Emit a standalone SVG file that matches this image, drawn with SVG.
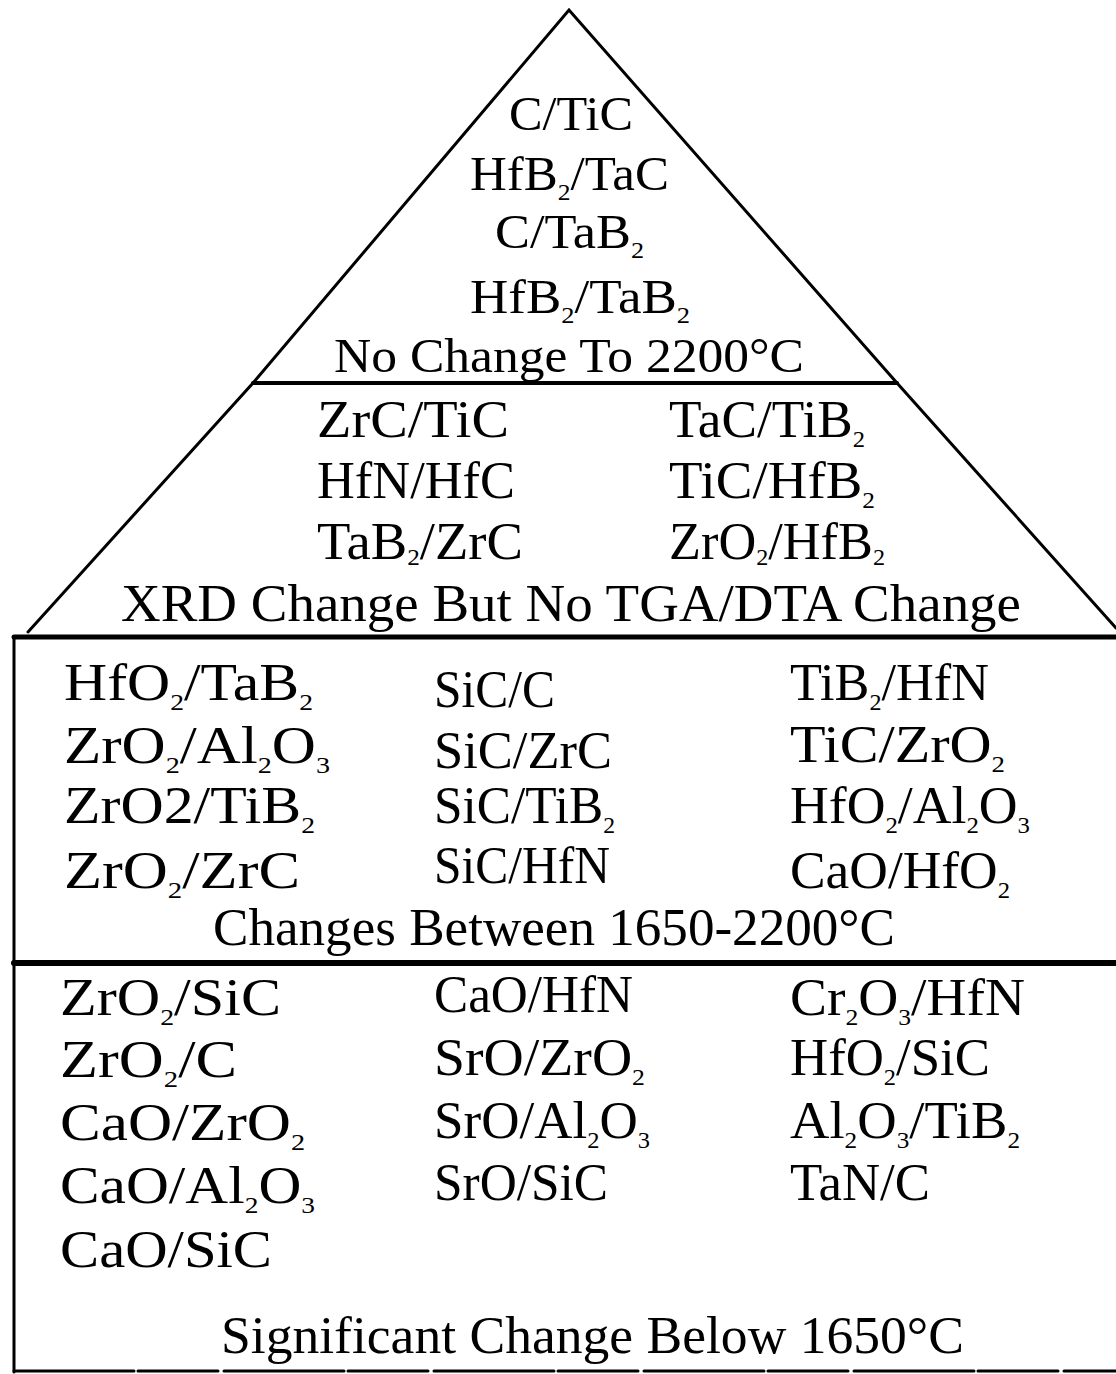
<svg xmlns="http://www.w3.org/2000/svg" width="1116" height="1374" viewBox="0 0 1116 1374">
<style>
text{font-family:"Liberation Serif","DejaVu Serif",serif;fill:#000;font-size:52px}
.t{font-size:48px}
.s{font-size:24px}
.ln{stroke:#000;fill:none;stroke-linecap:round;stroke-linejoin:miter}
</style>
<rect width="1116" height="1374" fill="#fff"/>
<g id="connectors">
<path class="ln" d="M28,632 L253,383 L569,10 L897,383 L1116,628" stroke-width="3"/>
<line class="ln" x1="253" y1="383" x2="897" y2="383" stroke-width="4"/>
<line class="ln" x1="14" y1="637" x2="1116" y2="637" stroke-width="5"/>
<line class="ln" x1="14" y1="637" x2="14" y2="1372" stroke-width="3"/>
<line class="ln" x1="14" y1="963" x2="1116" y2="963" stroke-width="6"/>
<line class="ln" x1="14" y1="1371" x2="1116" y2="1371" stroke-width="3" stroke-dasharray="120 4 80 6"/>
</g>
<g id="tier1">
<text class="t" x="509" y="130" textLength="124" lengthAdjust="spacingAndGlyphs">C/TiC</text>
<text class="t" x="470" y="190" textLength="199" lengthAdjust="spacingAndGlyphs">HfB<tspan class="s" dy="10">2</tspan><tspan dy="-10">/TaC</tspan></text>
<text class="t" x="495" y="248" textLength="149" lengthAdjust="spacingAndGlyphs">C/TaB<tspan class="s" dy="10">2</tspan></text>
<text class="t" x="470" y="313" textLength="220" lengthAdjust="spacingAndGlyphs">HfB<tspan class="s" dy="10">2</tspan><tspan dy="-10">/TaB</tspan><tspan class="s" dy="10">2</tspan></text>
<text class="t" x="334" y="372" textLength="470" lengthAdjust="spacingAndGlyphs">No Change To 2200°C</text>
</g>
<g id="tier2">
<text x="317" y="437" textLength="192" lengthAdjust="spacingAndGlyphs">ZrC/TiC</text>
<text x="669" y="437" textLength="196" lengthAdjust="spacingAndGlyphs">TaC/TiB<tspan class="s" dy="10">2</tspan></text>
<text x="317" y="498" textLength="198" lengthAdjust="spacingAndGlyphs">HfN/HfC</text>
<text x="669" y="498" textLength="206" lengthAdjust="spacingAndGlyphs">TiC/HfB<tspan class="s" dy="10">2</tspan></text>
<text x="317" y="559" textLength="206" lengthAdjust="spacingAndGlyphs">TaB<tspan class="s" dy="6">2</tspan><tspan dy="-6">/ZrC</tspan></text>
<text x="669" y="559" textLength="216" lengthAdjust="spacingAndGlyphs">ZrO<tspan class="s" dy="6">2</tspan><tspan dy="-6">/HfB</tspan><tspan class="s" dy="6">2</tspan></text>
<text x="121" y="621" textLength="900" lengthAdjust="spacingAndGlyphs">XRD Change But No TGA/DTA Change</text>
</g>
<g id="tier3">
<text x="64" y="700" textLength="249" lengthAdjust="spacingAndGlyphs">HfO<tspan class="s" dy="10">2</tspan><tspan dy="-10">/TaB</tspan><tspan class="s" dy="10">2</tspan></text>
<text x="434" y="707" textLength="121" lengthAdjust="spacingAndGlyphs">SiC/C</text>
<text x="790" y="700" textLength="199" lengthAdjust="spacingAndGlyphs">TiB<tspan class="s" dy="10">2</tspan><tspan dy="-10">/HfN</tspan></text>
<text x="64" y="763" textLength="266" lengthAdjust="spacingAndGlyphs">ZrO<tspan class="s" dy="10">2</tspan><tspan dy="-10">/Al</tspan><tspan class="s" dy="10">2</tspan><tspan dy="-10">O</tspan><tspan class="s" dy="10">3</tspan></text>
<text x="434" y="768" textLength="178" lengthAdjust="spacingAndGlyphs">SiC/ZrC</text>
<text x="790" y="762" textLength="215" lengthAdjust="spacingAndGlyphs">TiC/ZrO<tspan class="s" dy="10">2</tspan></text>
<text x="64" y="823" textLength="251" lengthAdjust="spacingAndGlyphs">ZrO2/TiB<tspan class="s" dy="10">2</tspan></text>
<text x="434" y="823" textLength="181" lengthAdjust="spacingAndGlyphs">SiC/TiB<tspan class="s" dy="10">2</tspan></text>
<text x="790" y="823" textLength="240" lengthAdjust="spacingAndGlyphs">HfO<tspan class="s" dy="10">2</tspan><tspan dy="-10">/Al</tspan><tspan class="s" dy="10">2</tspan><tspan dy="-10">O</tspan><tspan class="s" dy="10">3</tspan></text>
<text x="64" y="888" textLength="236" lengthAdjust="spacingAndGlyphs">ZrO<tspan class="s" dy="10">2</tspan><tspan dy="-10">/ZrC</tspan></text>
<text x="434" y="883" textLength="176" lengthAdjust="spacingAndGlyphs">SiC/HfN</text>
<text x="790" y="888" textLength="220" lengthAdjust="spacingAndGlyphs">CaO/HfO<tspan class="s" dy="10">2</tspan></text>
<text x="213" y="945" textLength="682" lengthAdjust="spacingAndGlyphs">Changes Between 1650-2200°C</text>
</g>
<g id="tier4">
<text x="60" y="1015" textLength="221" lengthAdjust="spacingAndGlyphs">ZrO<tspan class="s" dy="10">2</tspan><tspan dy="-10">/SiC</tspan></text>
<text x="434" y="1012" textLength="199" lengthAdjust="spacingAndGlyphs">CaO/HfN</text>
<text x="790" y="1015" textLength="235" lengthAdjust="spacingAndGlyphs">Cr<tspan class="s" dy="10">2</tspan><tspan dy="-10">O</tspan><tspan class="s" dy="10">3</tspan><tspan dy="-10">/HfN</tspan></text>
<text x="60" y="1077" textLength="177" lengthAdjust="spacingAndGlyphs">ZrO<tspan class="s" dy="10">2</tspan><tspan dy="-10">/C</tspan></text>
<text x="434" y="1075" textLength="211" lengthAdjust="spacingAndGlyphs">SrO/ZrO<tspan class="s" dy="10">2</tspan></text>
<text x="790" y="1075" textLength="200" lengthAdjust="spacingAndGlyphs">HfO<tspan class="s" dy="10">2</tspan><tspan dy="-10">/SiC</tspan></text>
<text x="60" y="1140" textLength="245" lengthAdjust="spacingAndGlyphs">CaO/ZrO<tspan class="s" dy="10">2</tspan></text>
<text x="434" y="1138" textLength="216" lengthAdjust="spacingAndGlyphs">SrO/Al<tspan class="s" dy="10">2</tspan><tspan dy="-10">O</tspan><tspan class="s" dy="10">3</tspan></text>
<text x="790" y="1138" textLength="230" lengthAdjust="spacingAndGlyphs">Al<tspan class="s" dy="10">2</tspan><tspan dy="-10">O</tspan><tspan class="s" dy="10">3</tspan><tspan dy="-10">/TiB</tspan><tspan class="s" dy="10">2</tspan></text>
<text x="60" y="1203" textLength="255" lengthAdjust="spacingAndGlyphs">CaO/Al<tspan class="s" dy="10">2</tspan><tspan dy="-10">O</tspan><tspan class="s" dy="10">3</tspan></text>
<text x="434" y="1200" textLength="174" lengthAdjust="spacingAndGlyphs">SrO/SiC</text>
<text x="790" y="1200" textLength="140" lengthAdjust="spacingAndGlyphs">TaN/C</text>
<text x="60" y="1267" textLength="212" lengthAdjust="spacingAndGlyphs">CaO/SiC</text>
<text x="221" y="1353" textLength="743" lengthAdjust="spacingAndGlyphs">Significant Change Below 1650°C</text>
</g>
</svg>
